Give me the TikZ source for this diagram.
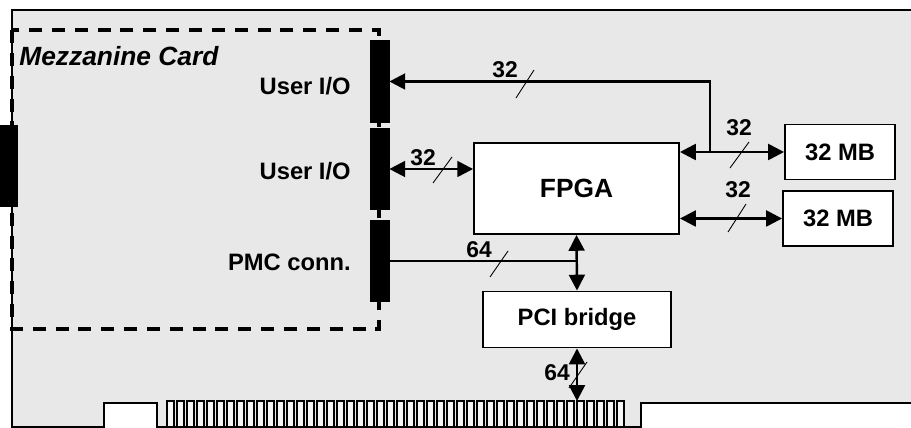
\documentclass[tikz,border=0pt]{standalone}
\usepackage{fontspec}
\setmainfont{Liberation Sans}
\usetikzlibrary{arrows.meta}
\definecolor{boardgray}{RGB}{232,232,232}
\definecolor{fingergray}{RGB}{246,246,246}
\tikzset{
  box/.style={draw, line width=1.1pt, fill=white, inner sep=0pt, font=\fontsize{13.5}{15}\selectfont\bfseries},
  conn/.style={fill=black, draw=black, inner sep=0pt, minimum width=0.38cm, minimum height=1.63cm},
  bus/.style={line width=1.4pt, >={Triangle[length=9pt,width=9pt]}},
  tick/.style={line width=0.5pt},
  buswidth/.style={font=\fontsize{13}{15}\selectfont\bfseries, inner sep=0pt},
  lbl/.style={font=\fontsize{13.5}{15}\selectfont\bfseries, inner sep=0pt, anchor=east},
}
\begin{document}
\begin{tikzpicture}[x=0.02cm, y=-0.02cm]
        \useasboundingbox (0,0) rectangle (911,428);
        % board
        \fill[boardgray] (911,10) -- (12,10) -- (12,427) -- (104,427) -- (104,403) -- (157,403)
              -- (157,427) -- (641,427) -- (641,403) -- (911,403) -- cycle;
        \draw[line width=0.9pt] (911,10) -- (12,10) -- (12,427) -- (104,427) -- (104,403) -- (157,403)
              -- (157,427) -- (641,427) -- (641,403) -- (911,403);
        \foreach \i in {0,...,45}
            \draw[fill=fingergray, line width=0.6pt] (167+10*\i,401) rectangle ++(7,26);
        % mezzanine card
        \draw[line width=2.2pt, dash pattern=on 7.4pt off 5.6pt] (12,30) rectangle (379,329);
        \node[anchor=west, inner sep=0pt, font=\fontsize{15}{17}\selectfont\bfseries\itshape] (mezz) at (19,56) {Mezzanine Card};
        \node[fill=black, inner sep=0pt, minimum width=0.36cm, minimum height=1.64cm] (bracket) at (9,166) {};
        \node[conn] (conn1) at (379.5,81.5) {};
        \node[conn] (conn2) at (379.5,169) {};
        \node[conn] (conn3) at (379.5,261) {};
        \node[lbl] (uio1) at (351,86) {User I/O};
        \node[lbl] (uio2) at (351,171) {User I/O};
        \node[lbl] (pmc) at (351,262) {PMC conn.};
        % blocks
        \node[box, minimum width=4.1cm, minimum height=1.82cm, font=\fontsize{15}{17}\selectfont\bfseries] (fpga) at (576.5,188.5) {FPGA};
        \node[box, minimum width=2.2cm, minimum height=1.1cm] (mem1) at (840,152) {32 MB};
        \node[box, minimum width=2.2cm, minimum height=1.1cm] (mem2) at (838,218.5) {32 MB};
        \node[box, minimum width=3.76cm, minimum height=1.12cm] (pci) at (577,319.5) {PCI bridge};
        \coordinate (jn) at (710,152);
        \coordinate (edge) at (577,401);
        % buses
        \draw[bus,->] (jn) |- (conn1.east);
        \draw[bus,<->] (fpga.east |- mem1.west) -- (mem1.west);
        \draw[bus,<->] (fpga.east |- mem2.west) -- (mem2.west);
        \draw[bus,<->] (conn2.east) -- (conn2.east -| fpga.west);
        \draw[bus] (conn3.east) -- (conn3.east -| fpga.south);
        \draw[bus,<->] (fpga.south) -- (pci.north);
        \draw[bus,<->] (pci.south) -- (edge);
        % bus widths
        \node[buswidth] (w1) at (505,70) {32};
        \draw[tick] (534,70) -- (516,98);
        \node[buswidth] (w2) at (739,128) {32};
        \draw[tick] (749,142) -- (730,168);
        \node[buswidth] (w3) at (738,190) {32};
        \draw[tick] (746,204) -- (728,232);
        \node[buswidth] (w4) at (423,158) {32};
        \draw[tick] (452,157) -- (433,183);
        \node[buswidth] (w5) at (479,250) {64};
        \draw[tick] (508,251) -- (490,277);
        \node[buswidth] (w6) at (557,373) {64};
        \draw[tick] (587,362) -- (569,388);
    \end{tikzpicture}
\end{document}
